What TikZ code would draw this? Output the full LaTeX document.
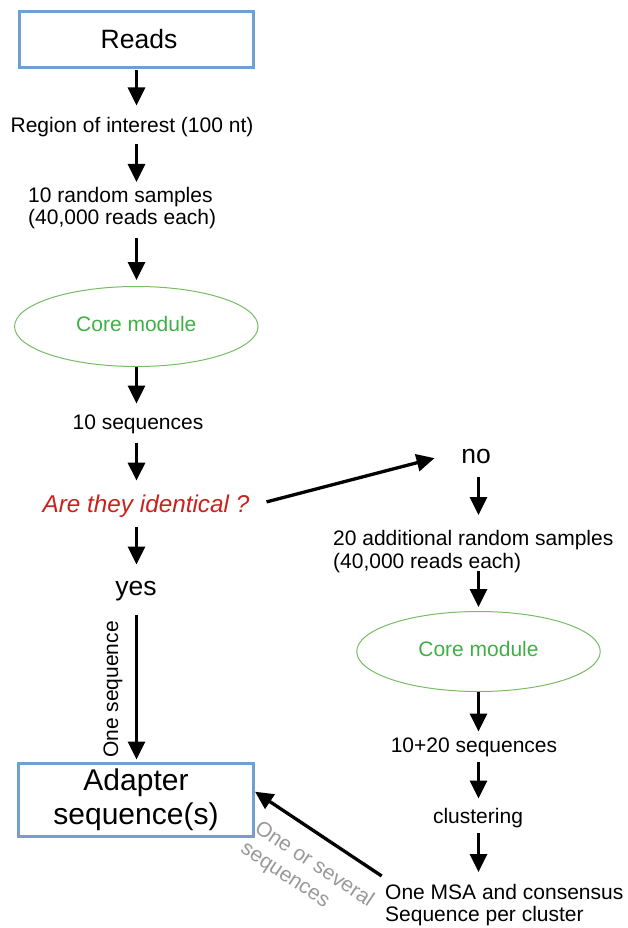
\documentclass[tikz,border=0pt]{standalone}
\usepackage{fontspec}
\setmainfont{Liberation Sans}
\usetikzlibrary{arrows.meta,shapes.geometric,calc}
\definecolor{boxblue}{HTML}{729FCF}
\definecolor{coregreen}{HTML}{3FAF46}
\definecolor{ellgreen}{HTML}{77BC65}
\definecolor{qred}{HTML}{C9211E}
\definecolor{lblgray}{HTML}{999999}
\begin{document}
\begin{tikzpicture}[x=1pt,y=-1pt,
  arr/.style={line width=3.3pt,-{Triangle[width=17pt,length=18pt]}},
  bluebox/.style={draw=boxblue,line width=3pt,rectangle,inner sep=0pt,align=center},
  coreell/.style={ellipse,draw=ellgreen,line width=1pt,minimum width=243.5pt,minimum height=80pt,inner sep=0pt,text=coregreen,font=\fontsize{21}{22.5}\selectfont,text height=15.3pt,text depth=4.4pt},
  txt/.style={inner sep=0pt,font=\fontsize{21}{22.5}\selectfont,text height=15.3pt,text depth=4.4pt},
  mtxt/.style={inner sep=0pt,font=\fontsize{21}{22.5}\selectfont,align=left},
  bigtxt/.style={inner sep=0pt,font=\fontsize{26.5}{30}\selectfont,text height=19.3pt,text depth=5.6pt},
]
\useasboundingbox (0,0) rectangle (627,928);

% nodes
\node[bluebox,minimum width=234pt,minimum height=56.5pt,font=\fontsize{26.5}{30}\selectfont] (reads) at (136.5,39.3) {\hspace{5pt}Reads};
\node[txt,anchor=base] (region) at (132,133) {Region of interest (100 nt)};
\node[mtxt,anchor=north west] (samples) at (28,187) {10 random samples\\(40,000 reads each)};
\node[coreell] (core1) at (136.3,326.5) {Core module};
\node[txt,anchor=base] (seq10) at (138,429) {10 sequences};
\node[inner sep=0pt,font=\fontsize{24.3}{28}\selectfont\itshape,text=qred,text height=17.7pt,text depth=5.1pt,anchor=base] (ident) at (146,512) {Are they identical ?};
\node[bigtxt,anchor=base] (yes) at (136,595) {yes};
\node[bigtxt,anchor=base] (no) at (476,463) {no};
\node[mtxt,anchor=north west] (addsamp) at (333,530.5) {20 additional random samples\\(40,000 reads each)};
\node[coreell] (core2) at (478.5,651.5) {Core module};
\node[txt,anchor=base] (seq1020) at (474,752) {10+20 sequences};
\node[txt,anchor=base] (clust) at (478,823) {clustering};
\node[mtxt,anchor=north west] (msa) at (385,884) {One MSA and consensus\\Sequence per cluster};
\node[bluebox,minimum width=235pt,minimum height=73pt,font=\fontsize{30}{34}\selectfont] (adapter) at (136,800) {Adapter\\sequence(s)};
\node[txt,rotate=90] (oneseq) at (112.6,689.5) {One sequence};
\node[inner sep=0pt,align=left,text=lblgray,rotate=-33.6,font=\fontsize{21}{25}\selectfont] (several) at (307,875) {One or several\\sequences};

% connectors
\draw[arr] ($(reads.south)+(0,1)$) -- ($(reads.south |- region.north)+(0,-12)$);
\draw[arr] ($(reads.south |- region.south)+(0,6.7)$) -- ($(reads.south |- samples.north)+(0,-5)$);
\draw[arr] ($(reads.south |- samples.south)+(0,8.7)$) -- ($(reads.south |- core1.north)+(0,-6)$);
\draw[arr] (reads.south |- core1.south) -- ($(reads.south |- seq10.north)+(0,-10)$);
\draw[arr] ($(reads.south |- seq10.south)+(0,9.7)$) -- ($(reads.south |- ident.north)+(0,-13.5)$);
\draw[arr] ($(reads.south |- ident.south)+(0,10)$) -- ($(reads.south |- yes.north)+(0,-11)$);
\draw[arr] ($(reads.south |- yes.south)+(0,14.5)$) -- ($(reads.south |- adapter.north)+(0,-2.5)$);
\draw[arr] ($(ident.east)+(17,-3.8)$) -- ($(no.west)+(-26.5,2)$);
\draw[arr] ($(core2.north |- no.south)+(0,8.5)$) -- ($(core2.north |- addsamp.north)+(0,-15.5)$);
\draw[arr] ($(core2.north |- addsamp.south)+(0,-2)$) -- ($(core2.north)+(0,-4)$);
\draw[arr] (core2.south) -- ($(core2.south |- seq1020.north)+(0,-5)$);
\draw[arr] ($(core2.south |- seq1020.south)+(0,5.7)$) -- ($(core2.south |- clust.north)+(0,-9)$);
\draw[arr] ($(core2.south |- clust.south)+(0,5.7)$) -- ($(core2.south |- msa.north)+(0,-12)$);
\draw[arr] ($(msa.north west)+(-3.3,-8)$) -- ($(adapter.east)+(0,-8.3)$);
\end{tikzpicture}
\end{document}
